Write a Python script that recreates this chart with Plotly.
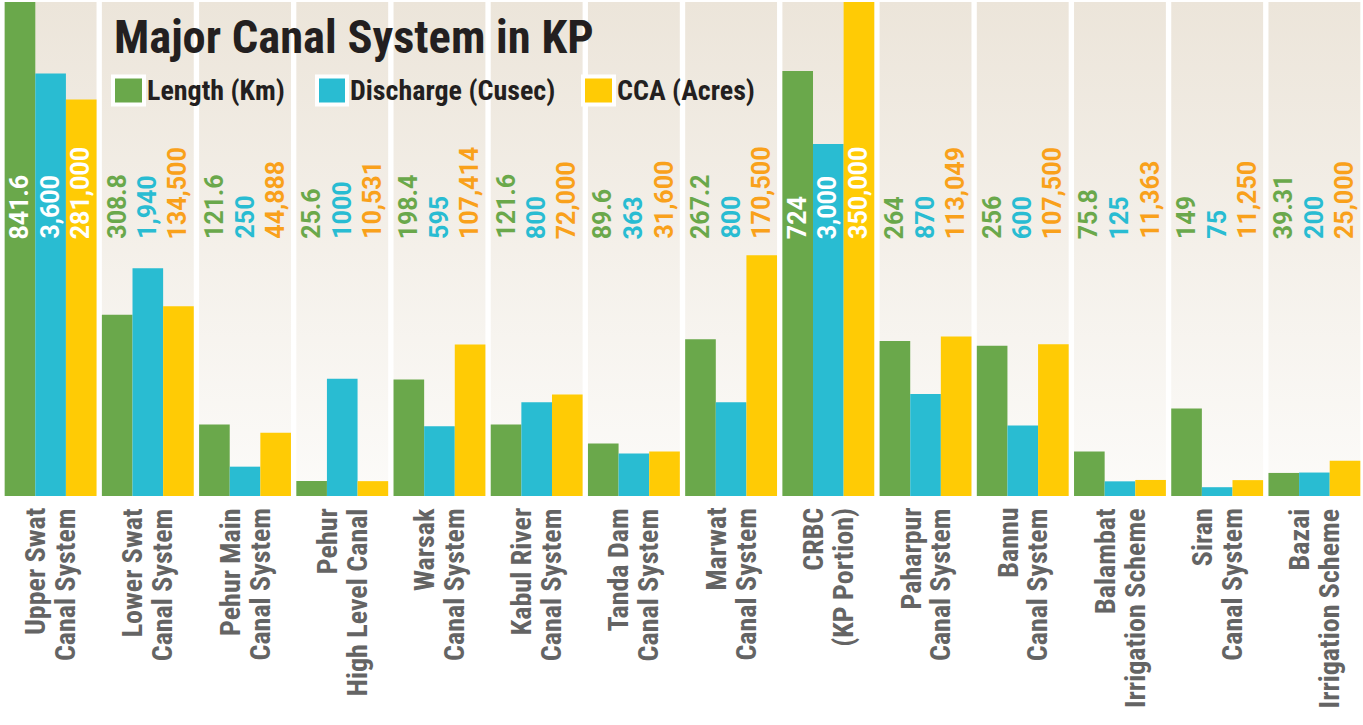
import plotly.graph_objects as go

categories_line1 = ["Upper Swat", "Lower Swat", "Pehur Main", "Pehur", "Warsak", "Kabul River",
                    "Tanda Dam", "Marwat", "CRBC", "Paharpur", "Bannu", "Balambat", "Siran", "Bazai"]
categories_line2 = ["Canal System", "Canal System", "Canal System", "High Level Canal", "Canal System",
                    "Canal System", "Canal System", "Canal System", "(KP Portion)", "Canal System",
                    "Canal System", "Irrigation Scheme", "Canal System", "Irrigation Scheme"]

length_km = [841.6, 308.8, 121.6, 25.6, 198.4, 121.6, 89.6, 267.2, 724, 264, 256, 75.8, 149, 39.31]
discharge_cusec = [3600, 1940, 250, 1000, 595, 800, 363, 800, 3000, 870, 600, 125, 75, 200]
cca_acres = [281000, 134500, 44888, 10531, 107414, 72000, 31600, 170500, 350000, 113049, 107500, 11363, 11250, 25000]

length_labels = [f"{v:g}" for v in length_km]
discharge_labels = ["3,600", "1,940", "250", "1000", "595", "800", "363", "800", "3,000", "870", "600", "125", "75", "200"]
cca_labels = [f"{v:,}" for v in cca_acres]

series_names = ["Length (Km)", "Discharge (Cusec)", "CCA (Acres)"]

# styling
BAR_COLORS = ["#6aa84b", "#29bcd2", "#ffcb05"]
TEXT_COLORS = ["#6aa84b", "#29bcd2", "#f9a11b"]
AXIS_MAX = [841.6, 4210, 350000]
COND = "Roboto Condensed, Liberation Sans Narrow, sans-serif"

W, H = 1363, 725
ML, MR, MT, MB = 2, 0, 2, 229
PW = W - ML - MR
PH = H - MT - MB


def px_x(p):
    return (p - ML) / PW


def px_y(p):
    return (H - MB - p) / PH


n = len(categories_line1)
idx = list(range(n))
bw = 0.315
offsets = [-1.5 * bw, -0.5 * bw, 0.5 * bw]
col_half = 1.5 * bw

fig = go.Figure()

# background gradient columns
for i in idx:
    fig.add_trace(go.Scatter(
        x=[i - col_half, i + col_half, i + col_half, i - col_half, i - col_half],
        y=[0, 0, 1, 1, 0],
        mode="none", fill="toself",
        fillgradient=dict(type="vertical", colorscale=[[0, "#fcfbf9"], [1, "#ece5da"]]),
        hoverinfo="skip", showlegend=False, xaxis="x", yaxis="y"))

series = [length_km, discharge_cusec, cca_acres]
labels = [length_labels, discharge_labels, cca_labels]
yaxes = ["y2", "y3", "y4"]

for s, (vals, name, ya) in enumerate(zip(series, series_names, yaxes)):
    fig.add_trace(go.Bar(
        x=idx, y=vals, name=name, width=bw, offset=offsets[s],
        marker=dict(color=BAR_COLORS[s], line=dict(width=0)),
        xaxis="x", yaxis=ya, showlegend=False))

annotations = []
# value labels
for s in range(3):
    for i in idx:
        inside = series[s][i] / AXIS_MAX[s] > 0.6
        annotations.append(dict(
            x=i + offsets[s] + bw / 2, xref="x", y=px_y(241), yref="paper",
            text=labels[s][i], textangle=-90, showarrow=False,
            xanchor="center", yanchor="bottom",
            font=dict(family="Roboto, sans-serif", size=25, weight="bold",
                      color="#ffffff" if inside else TEXT_COLORS[s])))

# category labels
for i in idx:
    for line, shift in ((categories_line1[i], -15), (categories_line2[i], 15)):
        annotations.append(dict(
            x=i, xref="x", xshift=shift, y=px_y(506), yref="paper",
            text=line, textangle=-90, showarrow=False,
            xanchor="center", yanchor="top",
            font=dict(family=COND, size=28, weight="bold", color="#646464")))

# title
annotations.append(dict(
    x=px_x(112), y=px_y(37), xref="paper", yref="paper",
    text="Major Canal System in KP", showarrow=False,
    xanchor="left", yanchor="middle",
    font=dict(family=COND, size=46.5, weight="bold", color="#231f20")))

# legend
legend_pos = [(113, 144, 145), (317, 347, 348), (583, 614, 615)]
shapes = []
for s, (x0, x1, tx) in enumerate(legend_pos):
    shapes.append(dict(type="rect", xref="paper", yref="paper",
                       x0=px_x(x0), x1=px_x(x1), y0=px_y(104.5), y1=px_y(76.5),
                       fillcolor=BAR_COLORS[s], line=dict(color="#ffffff", width=4)))
    annotations.append(dict(
        x=px_x(tx), y=px_y(91), xref="paper", yref="paper",
        text=series_names[s], showarrow=False, xanchor="left", yanchor="middle",
        font=dict(family=COND, size=28, weight="bold", color="#231f20")))

hidden = dict(visible=False, showgrid=False, zeroline=False, fixedrange=True)
fig.update_layout(
    width=W, height=H,
    margin=dict(l=ML, r=MR, t=MT, b=MB, pad=0),
    paper_bgcolor="#ffffff", plot_bgcolor="#ffffff",
    barmode="overlay", showlegend=False,
    xaxis=dict(range=[-0.5, n - 0.5], **hidden),
    yaxis=dict(range=[0, 1], **hidden),
    yaxis2=dict(range=[0, AXIS_MAX[0]], overlaying="y", **hidden),
    yaxis3=dict(range=[0, AXIS_MAX[1]], overlaying="y", **hidden),
    yaxis4=dict(range=[0, AXIS_MAX[2]], overlaying="y", **hidden),
    annotations=annotations, shapes=shapes,
)

fig.write_html("out.html", config={"displayModeBar": False},
               post_script="document.body.style.margin='0';")
